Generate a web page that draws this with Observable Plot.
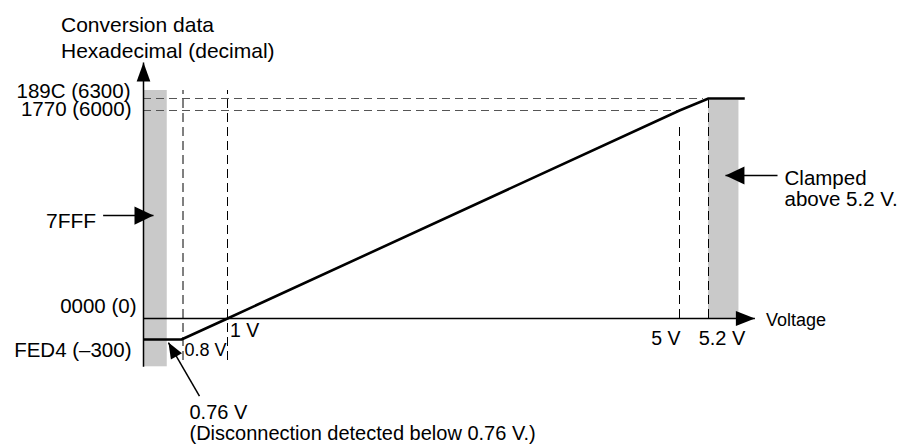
<!DOCTYPE html>
<html>
<head>
<meta charset="utf-8">
<script src="https://cdn.jsdelivr.net/npm/d3@7"></script>
<script src="https://cdn.jsdelivr.net/npm/@observablehq/plot@0.6"></script>
<style>
  body { margin: 0; background: #fff; font-family: "Liberation Sans", Arial, Helvetica, sans-serif; }
  #title { position: relative; z-index: 1; height: 60px; box-sizing: border-box; padding: 12px 0 0 61px; font-size: 21px; line-height: 26px; color: #000; }
</style>
</head>
<body>
<div id="title">Conversion data<br>Hexadecimal (decimal)</div>
<div id="chart"></div>
<script>
// ---- data ----
const voltage    = [0.6, 0.76, 1, 5, 5.2, 5.45];
const conversion = [-300, -300, 0, 6000, 6300, 6300];

const yTickValues = [6300, 6000, 0, -300];
const yTickLabels = ["189C (6300)", "1770 (6000)", "0000 (0)", "FED4 (\u2013300)"];
const xTickValues = [0.8, 1, 5, 5.2];
const xTickLabels = ["0.8 V", "1 V", "5 V", "5.2 V"];
const xAxisTitle = "Voltage";

// dashed guide lines (data units)
const hGuideValues = [6300, 6000];
const hGuideEnds   = [5.165, 5];
const vGuideValues  = [0.8, 1, 5, 5.2];
const vGuideTops    = [6500, 6500, 5650, 6250];
const vGuideBottoms = [-600, -600, 0, 0];

// shaded bands
const bandX1 = [0.6, 5.2];
const bandX2 = [0.7, 5.41];
const bandY1 = [-690, 0];
const bandY2 = [6500, 6250];

// axes extents
const axisOrigin = 0.6;
const xAxisEnd = 5.52;
const yAxisBottom = -690;
const yAxisTop = 7200;

// annotations
const noteLabels = ["7FFF", "Clamped\nabove 5.2 V.", "0.76 V\n(Disconnection detected below 0.76 V.)"];
const noteTailX = [0.43, 5.676, 0.874];
const noteTailY = [2970, 4125, -1110];
const noteTipX  = [0.642, 5.317, 0.705];
const noteTipY  = [2970, 4125, -343];

// ---- layout (scale breakpoints for this not-to-scale diagram) ----
const xScaleOpts = {type: "linear", domain: [0.6, 0.76, 0.8, 1, 5, 5.2], range: [143, 181, 182.5, 227, 679, 708]};
const yScaleOpts = {type: "linear", domain: [-300, 0, 6000, 6300], range: [279, 258, 50, 38]};

const X = Plot.scale({x: xScaleOpts});
const Y = Plot.scale({y: yScaleOpts});
function angleOf(x1, y1, x2, y2) {
  const dx = X.apply(x2) - X.apply(x1), dy = Y.apply(y2) - Y.apply(y1);
  return Math.atan2(dx, -dy) * 180 / Math.PI;
}
function head(angleDeg, k) {
  const a = angleDeg * Math.PI / 180, c = Math.cos(a), s = Math.sin(a);
  const rot = ([x, y]) => [x * c - y * s, x * s + y * c];
  return {
    draw(ctx, size) {
      const L = Math.sqrt(size / Math.PI);
      const p = [[0, 0], [-k * L, L], [k * L, L]].map(rot);
      ctx.moveTo(p[0][0], p[0][1]);
      ctx.lineTo(p[1][0], p[1][1]);
      ctx.lineTo(p[2][0], p[2][1]);
      ctx.closePath();
    }
  };
}

const FONT = '"Liberation Sans", Arial, Helvetica, sans-serif';
const yLabelStyle = [
  {dx: -13, dy: -7}, {dx: -12, dy: -1.5}, {dx: -7, dy: -12}, {dx: -12, dy: 11}
];
const xLabelStyle = [
  {textAnchor: "start", dx: 1.5, dy: 32, fontSize: 18},
  {textAnchor: "start", dx: 2.5, dy: 12, fontSize: 19.5},
  {textAnchor: "end", dx: 1, dy: 20.5, fontSize: 19.5},
  {textAnchor: "middle", dx: 13.5, dy: 20.5, fontSize: 20}
];
const noteStyle = [
  {textAnchor: "end", dx: -7, dy: 5, lineAnchor: "middle", fontSize: 21},
  {textAnchor: "start", dx: 7, dy: -6, lineAnchor: "top", fontSize: 20.5},
  {textAnchor: "start", dx: -10, dy: 8, lineAnchor: "top", fontSize: 20}
];

const lineData = voltage.map((v, i) => ({v, c: conversion[i]}));
const bands = bandX1.map((x1, i) => ({x1, x2: bandX2[i], y1: bandY1[i], y2: bandY2[i]}));
const hGuides = hGuideValues.map((y, i) => ({y, x1: axisOrigin, x2: hGuideEnds[i]}));
const vGuides = vGuideValues.map((x, i) => ({x, y1: vGuideBottoms[i], y2: vGuideTops[i]}));
const axes = [
  {x1: axisOrigin, y1: yAxisBottom, x2: axisOrigin, y2: yAxisTop},
  {x1: axisOrigin, y1: 0, x2: xAxisEnd, y2: 0}
];
const notes = noteLabels.map((label, i) => ({label, x1: noteTailX[i], y1: noteTailY[i], x2: noteTipX[i], y2: noteTipY[i]}));

const marks = [
  Plot.rect(bands, {x1: "x1", x2: "x2", y1: "y1", y2: "y2", fill: "#c9c9c9"}),
  Plot.ruleY(hGuides, {y: "y", x1: "x1", x2: "x2", stroke: "#555", strokeWidth: 1.2, strokeDasharray: "8,5"}),
  Plot.ruleX(vGuides, {x: "x", y1: "y1", y2: "y2", stroke: "#000", strokeWidth: 1, strokeDasharray: "9,5"}),
  Plot.link(axes, {x1: "x1", y1: "y1", x2: "x2", y2: "y2", stroke: "#000", strokeWidth: 1.5}),
  Plot.dot([axes[0]], {x: "x2", y: "y2", r: 19, symbol: head(0, 0.36), fill: "#000", stroke: "none"}),
  Plot.dot([axes[1]], {x: "x2", y: "y2", r: 19, symbol: head(90, 0.4), fill: "#000", stroke: "none"}),
  Plot.line(lineData, {x: "v", y: "c", stroke: "#000", strokeWidth: 2.6, strokeLinejoin: "miter", strokeLinecap: "butt"}),
  Plot.link(notes, {x1: "x1", y1: "y1", x2: "x2", y2: "y2", stroke: "#000", strokeWidth: 1.5}),
  ...notes.map((n, i) => Plot.dot([n], {
    x: "x2", y: "y2", r: i === 2 ? 16 : 19,
    symbol: head(angleOf(n.x1, n.y1, n.x2, n.y2), i === 2 ? 0.4 : 0.48),
    fill: "#000", stroke: "none"
  })),
  ...yTickValues.map((v, i) => Plot.text([{x: axisOrigin, y: v, label: yTickLabels[i]}], {
    x: "x", y: "y", text: "label", textAnchor: "end", fontSize: 20.5, fill: "#000", ...yLabelStyle[i]
  })),
  ...xTickValues.map((v, i) => Plot.text([{x: v, y: 0, label: xTickLabels[i]}], {
    x: "x", y: "y", text: "label", fill: "#000", ...xLabelStyle[i]
  })),
  Plot.text([{x: xAxisEnd, y: 0, label: xAxisTitle}], {x: "x", y: "y", text: "label", textAnchor: "start", dx: 11, dy: 1.5, fontSize: 18, fill: "#000"}),
  ...notes.map((n, i) => Plot.text([n], {x: "x1", y: "y1", text: "label", fill: "#000", lineHeight: 1.05, ...noteStyle[i]}))
];

const chart = Plot.plot({
  width: 899,
  height: 385,
  marginLeft: 0, marginRight: 0, marginTop: 0, marginBottom: 0,
  x: {...xScaleOpts, axis: null},
  y: {...yScaleOpts, axis: null},
  style: {fontFamily: FONT, fontSize: "20px", color: "#000", background: "#fff", overflow: "visible"},
  marks
});
document.getElementById("chart").appendChild(chart);
</script>
</body>
</html>
